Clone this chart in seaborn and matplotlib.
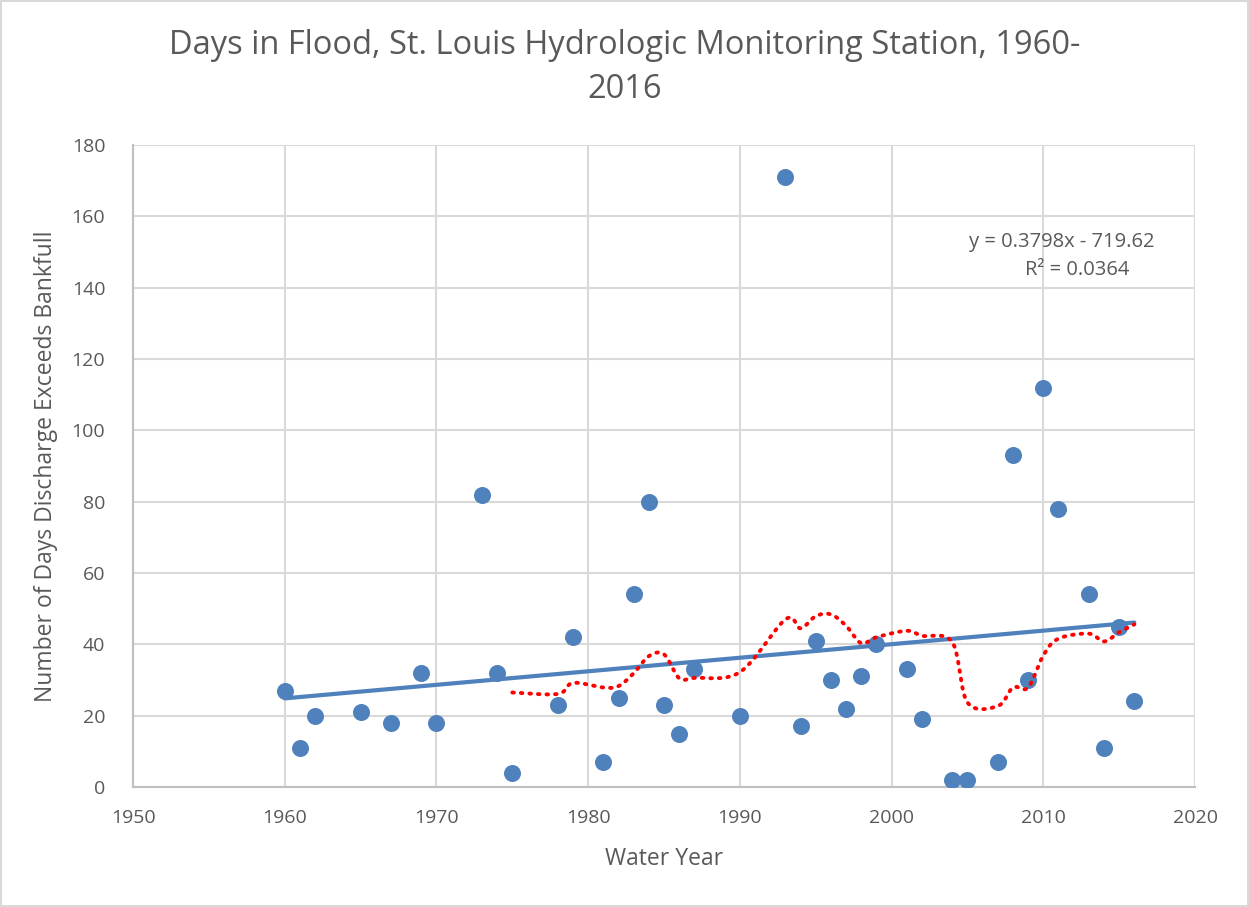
import numpy as np
import pandas as pd
import matplotlib
matplotlib.use('Agg')
import matplotlib.pyplot as plt
import seaborn as sns

sns.set_theme(style='white')
plt.rcParams['font.family'] = ['Open Sans', 'DejaVu Sans']

# water year vs days above bankfull
years = [1960, 1961, 1962, 1965, 1967, 1969, 1970, 1973, 1974, 1975,
         1978, 1979, 1981, 1982, 1983, 1984, 1985, 1986, 1987, 1990,
         1993, 1994, 1995, 1996, 1997, 1998, 1999, 2001, 2002, 2004,
         2005, 2007, 2008, 2009, 2010, 2011, 2013, 2014, 2015, 2016]
days = [27, 11, 20, 21, 18, 32, 18, 82, 32, 4,
        23, 42, 7, 25, 54, 80, 23, 15, 33, 20,
        171, 17, 41, 30, 22, 31, 40, 33, 19, 2,
        2, 7, 93, 30, 112, 78, 54, 11, 45, 24]
eq_text = 'y = 0.3798x - 719.62'
r2_text = 'R² = 0.0364'

df = pd.DataFrame({'year': years, 'days': days})
df['ma'] = df['days'].rolling(10).mean()

blue = '#4f81bd'
grey = '#595959'

fig = plt.figure(figsize=(12.49, 9.07), dpi=100)
fig.patch.set_edgecolor('#d9d9d9')
fig.patch.set_linewidth(1.5)
ax = fig.add_axes([0.1065, 0.1323, 0.8503, 0.7078])

sns.regplot(data=df, x='year', y='days', ax=ax, ci=None, color=blue,
            scatter_kws={'s': 150, 'alpha': 1, 'linewidths': 0, 'zorder': 3},
            line_kws={'lw': 3, 'zorder': 4})

# 10-point moving average, smoothed like the spreadsheet curve
ma = df.dropna(subset=['ma'])
mx = ma['year'].to_numpy(float)
my = ma['ma'].to_numpy(float)
sx, sy = [], []
for i in range(len(mx) - 1):
    p0 = (mx[max(i - 1, 0)], my[max(i - 1, 0)])
    p1 = (mx[i], my[i])
    p2 = (mx[i + 1], my[i + 1])
    p3 = (mx[min(i + 2, len(mx) - 1)], my[min(i + 2, len(mx) - 1)])
    t = np.linspace(0, 1, 20, endpoint=False)
    c1 = (p1[0] + (p2[0] - p0[0]) / 6, p1[1] + (p2[1] - p0[1]) / 6)
    c2 = (p2[0] - (p3[0] - p1[0]) / 6, p2[1] - (p3[1] - p1[1]) / 6)
    for a, b in [(0, sx), (1, sy)]:
        b.extend((1 - t) ** 3 * p1[a] + 3 * (1 - t) ** 2 * t * c1[a]
                 + 3 * (1 - t) * t ** 2 * c2[a] + t ** 3 * p2[a])
sx.append(mx[-1])
sy.append(my[-1])
sns.lineplot(x=sx, y=sy, ax=ax, color='#ff0000', lw=2.8, sort=False,
             linestyle=(0, (0.4, 1.8)), dash_capstyle='round', zorder=5)

ax.set_xlim(1950, 2020)
ax.set_ylim(0, 180)
ax.set_xticks(range(1950, 2021, 10))
ax.set_yticks(range(0, 181, 20))
ax.grid(True, color='#d9d9d9', lw=1.5)
ax.set_axisbelow(True)
for s in ['top', 'right']:
    ax.spines[s].set_visible(False)
for s in ['left', 'bottom']:
    ax.spines[s].set_color('#bfbfbf')
    ax.spines[s].set_linewidth(1.5)
ax.tick_params(axis='both', colors=grey, labelsize=14, length=0)
ax.tick_params(axis='x', pad=16)
ax.tick_params(axis='y', pad=20)

ax.set_xlabel('Water Year', fontsize=16.5, color=grey, labelpad=14)
ax.set_ylabel('Number of Days Discharge Exceeds Bankfull', fontsize=16.5,
              color=grey, labelpad=10)

fig.text(0.5, 0.968, 'Days in Flood, St. Louis Hydrologic Monitoring Station, 1960-\n2016',
         ha='center', va='top', fontsize=23.5, color=grey, linespacing=1.45)

ax.text(2011.2, 152.8, eq_text, ha='center', va='center', fontsize=14.5, color=grey)
ax.text(2012.2, 145, r2_text, ha='center', va='center', fontsize=14.5, color=grey)

fig.savefig('out.png', dpi=100)
